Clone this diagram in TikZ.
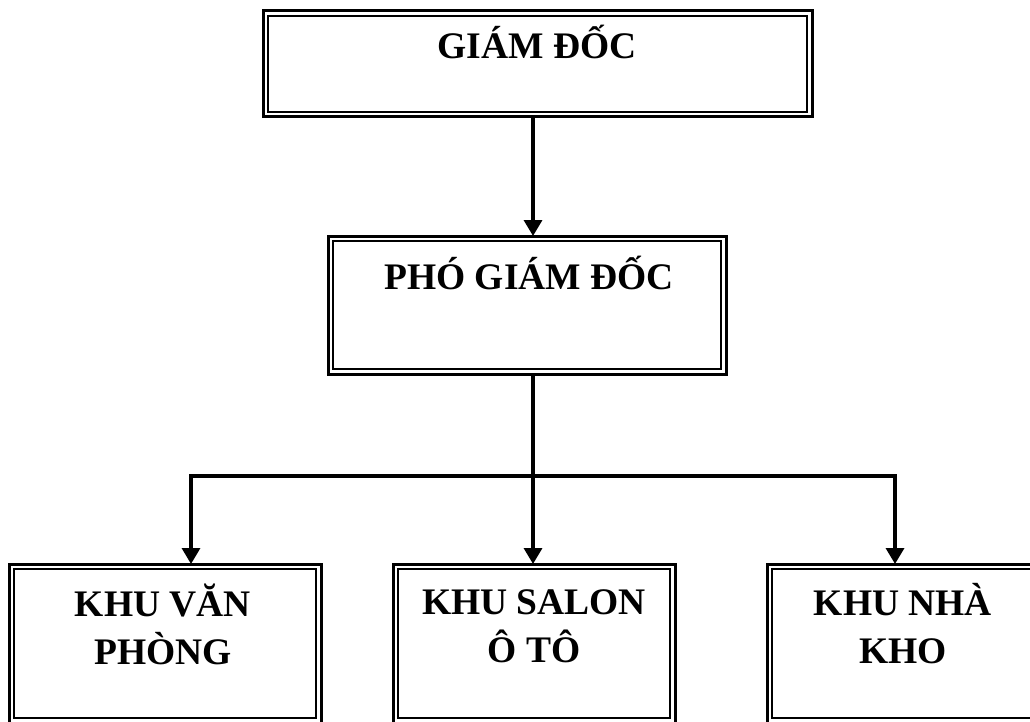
\documentclass[tikz,border=0pt]{standalone}
\usepackage{fontspec}
\setmainfont{Liberation Serif}
\usetikzlibrary{arrows.meta}
\tikzset{
  boxframe/.style={draw, line width=3pt, inner sep=0pt, outer sep=0pt, rectangle, anchor=north west},
  lbl/.style={font=\bfseries\fontsize{37.5}{48}\selectfont, align=center, anchor=base, inner sep=0pt},
  conn/.style={line width=3.4pt},
  arr/.style={line width=3.4pt, -{Triangle[width=18pt,length=16pt]}},
}
\newcommand\innerframe[1]{%
  \draw[line width=1.7pt] ([xshift=5pt,yshift=-5pt]#1.north west) rectangle ([xshift=-5pt,yshift=5pt]#1.south east);}
\begin{document}
\begin{tikzpicture}[x=1pt,y=-1pt]
\clip (0,0) rectangle (1030,722);
\fill[white] (0,0) rectangle (1030,722);
% boxes
\node[boxframe, minimum width=549pt, minimum height=106pt] (gd) at (263,11) {};
\innerframe{gd}
\node[boxframe, minimum width=398pt, minimum height=138pt] (pgd) at (328,236) {};
\innerframe{pgd}
\node[boxframe, minimum width=312pt, minimum height=159pt] (kvp) at (9,564) {};
\innerframe{kvp}
\node[boxframe, minimum width=282pt, minimum height=159pt] (kso) at (393,564) {};
\innerframe{kso}
\node[boxframe, minimum width=273pt, minimum height=159pt] (knk) at (767,564) {};
\innerframe{knk}
% labels
\node[lbl] (gdt) at (537,59) {GIÁM ĐỐC};
\node[lbl] (pgdt) at (529,289) {PHÓ GIÁM ĐỐC};
\node[lbl] (kvpt) at (163,664) {KHU VĂN\\PHÒNG};
\node[lbl] (ksot) at (534,662) {KHU SALON\\Ô TÔ};
\node[lbl] (knkt) at (903,663) {KHU NHÀ\\KHO};
% connectors
\coordinate (spine) at (533,476);
\coordinate (j1) at (191,476);
\coordinate (j3) at (895,476);
\draw[arr] (gd.south -| spine) -- (pgd.north -| spine);
\draw[conn] (pgd.south -| spine) -- (spine);
\draw[arr] (spine) -- (j1) -- (kvp.north -| j1);
\draw[arr] (spine) -- (j3) -- (knk.north -| j3);
\draw[arr] (spine) -- (kso.north -| spine);
\end{tikzpicture}
\end{document}
